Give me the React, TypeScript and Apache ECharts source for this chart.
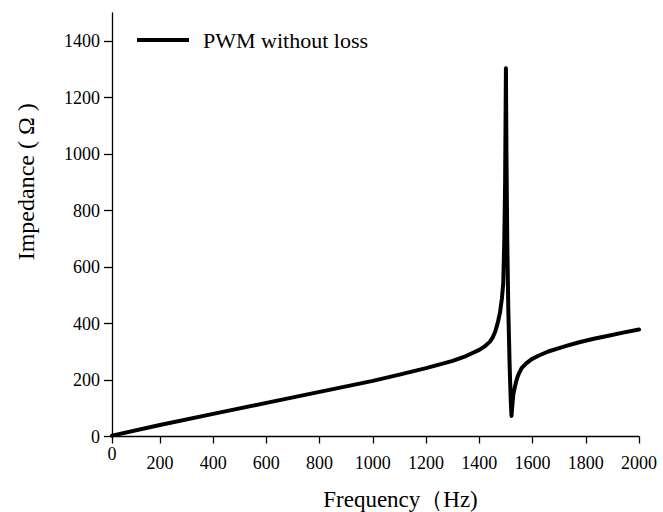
import React, { useEffect, useRef } from "react";
import * as echarts from "echarts";

const seriesName = "PWM without loss";
const frequency = [20, 200, 400, 600, 800, 1000, 1100, 1200, 1300, 1350, 1400, 1420, 1440, 1450, 1460, 1470, 1478, 1485, 1490, 1494, 1497, 1500, 1502, 1505, 1509, 1514, 1518, 1521, 1525, 1528, 1534, 1540, 1545, 1550, 1559, 1575, 1597, 1620, 1659, 1700, 1730, 1772, 1830, 1885, 1940, 2000];
const impedance = [3, 41, 80, 119, 158, 197, 219, 242, 268, 285, 307, 319, 336, 350, 372, 405, 440, 490, 543, 700, 899, 1304, 1000, 700, 449, 250, 130, 73, 120, 150, 177, 200, 215, 225, 242, 258, 274, 285, 301, 313, 322, 333, 346, 357, 368, 379];
const yTicks = [0, 200, 400, 600, 800, 1000, 1200, 1400];
const xTicks = [20, 200, 400, 600, 800, 1000, 1200, 1400, 1600, 1800, 2000];
const xLabels = [200, 400, 600, 800, 1000, 1200, 1400, 1600, 1800, 2000];

const FONT = "'Liberation Serif', 'DejaVu Serif', serif";

export default function App() {
  const ref = useRef<HTMLDivElement>(null);
  useEffect(() => {
    const chart = echarts.init(ref.current!, null, { renderer: "svg" });
    const data = frequency.map((f, i) => [f, impedance[i]]);
    const plain = (v: number) => String(v);
    chart.setOption({
      animation: false,
      backgroundColor: "#ffffff",
      textStyle: { fontFamily: FONT, color: "#000" },
      grid: { left: 112, right: 24, top: 13, bottom: 75.5, containLabel: false, outerBoundsMode: "none" },
      legend: {
        data: [{ name: seriesName, icon: "rect" }],
        left: 137,
        top: 29,
        padding: 0,
        itemWidth: 52,
        itemHeight: 4,
        textStyle: { fontFamily: FONT, fontSize: 22, color: "#000", padding: [0, 0, 0, 9] },
      },
      xAxis: [
        {
          type: "value",
          min: 20,
          max: 2000,
          splitLine: { show: false },
          axisLine: { lineStyle: { color: "#000", width: 1.3 } },
          axisTick: { show: true, length: 7, customValues: xTicks, lineStyle: { color: "#000", width: 1.3 } },
          axisLabel: { customValues: xLabels, margin: 17, fontSize: 18, fontFamily: FONT, color: "#000", formatter: plain },
          name: "Frequency（Hz)",
          nameLocation: "middle",
          nameGap: 51,
          nameTextStyle: { fontFamily: FONT, fontSize: 23, color: "#000", padding: [0, 0, 0, 50] },
        },
        {
          type: "value",
          min: 20,
          max: 2000,
          position: "bottom",
          splitLine: { show: false },
          axisLine: { show: false },
          axisTick: { show: false },
          axisLabel: { customValues: [20], margin: 8, fontSize: 18, fontFamily: FONT, color: "#000", formatter: () => "0" },
        },
      ],
      yAxis: {
        type: "value",
        min: 0,
        max: 1500,
        splitLine: { show: false },
        axisLine: { show: true, lineStyle: { color: "#000", width: 1.3 } },
        axisTick: { show: true, length: 8, customValues: yTicks, lineStyle: { color: "#000", width: 1.3 } },
        axisLabel: { customValues: yTicks, margin: 12, fontSize: 18, fontFamily: FONT, color: "#000", formatter: plain },
        name: "Impedance ( Ω )",
        nameLocation: "middle",
        nameRotate: 90,
        nameGap: 74,
        nameTextStyle: { fontFamily: FONT, fontSize: 24, color: "#000", padding: [0, 0, 0, 86] },
      },
      series: [
        {
          name: seriesName,
          type: "line",
          data,
          symbol: "none",
          smooth: false,
          lineStyle: { color: "#000", width: 4, join: "round", cap: "round" },
          itemStyle: { color: "#000" },
        },
      ],
    });
    return () => chart.dispose();
  }, []);
  return <div ref={ref} style={{ width: 663, height: 512, position: "absolute", left: 0, top: 0 }} />;
}
